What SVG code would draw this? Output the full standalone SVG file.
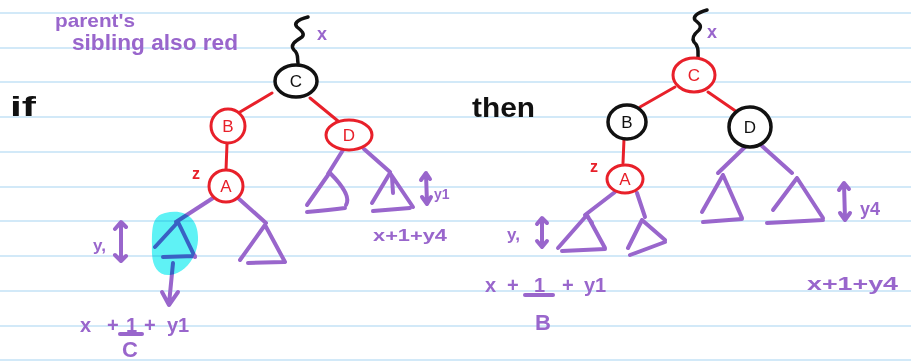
<svg xmlns="http://www.w3.org/2000/svg" width="911" height="362" viewBox="0 0 911 362">
<style>
.rule{stroke:#d2e9f8;stroke-width:2}
.blk{fill:none;stroke:#111;stroke-width:3.5;stroke-linecap:round;stroke-linejoin:round}
.red{fill:none;stroke:#e8202a;stroke-width:3;stroke-linecap:round;stroke-linejoin:round}
.pur{fill:none;stroke:#9966cc;stroke-width:4;stroke-linecap:round;stroke-linejoin:round}
.nb{fill:#fff;stroke:#111;stroke-width:3.5}
.nr{fill:#fff;stroke:#e8202a;stroke-width:3}
.lb{font-family:"Liberation Sans",Arial,sans-serif;font-size:17px;text-anchor:middle;fill:#111}
.lr{font-family:"Liberation Sans",Arial,sans-serif;font-size:17px;text-anchor:middle;fill:#e8202a}
.tp{font-family:"Liberation Sans",Arial,sans-serif;font-weight:bold;fill:#9966cc}
.tk{font-family:"Liberation Sans",Arial,sans-serif;font-weight:bold;fill:#111}
.tr{font-family:"Liberation Sans",Arial,sans-serif;font-weight:bold;fill:#e8202a}
</style>
<rect width="911" height="362" fill="#fff"/>
<g id="rules">
<line class="rule" x1="0" y1="13" x2="911" y2="13"/>
<line class="rule" x1="0" y1="48" x2="911" y2="48"/>
<line class="rule" x1="0" y1="82" x2="911" y2="82"/>
<line class="rule" x1="0" y1="117" x2="911" y2="117"/>
<line class="rule" x1="0" y1="152" x2="911" y2="152"/>
<line class="rule" x1="0" y1="187" x2="911" y2="187"/>
<line class="rule" x1="0" y1="221" x2="911" y2="221"/>
<line class="rule" x1="0" y1="256" x2="911" y2="256"/>
<line class="rule" x1="0" y1="291" x2="911" y2="291"/>
<line class="rule" x1="0" y1="326" x2="911" y2="326"/>
<line class="rule" x1="0" y1="360" x2="911" y2="360"/>
</g>

<g id="notes">
<text class="tp" x="55" y="27" font-size="19" textLength="80" lengthAdjust="spacingAndGlyphs">parent's</text>
<text class="tp" x="72" y="50" font-size="22" textLength="166" lengthAdjust="spacingAndGlyphs">sibling also red</text>
<text class="tk" x="10" y="116" font-size="28" textLength="26" lengthAdjust="spacingAndGlyphs">if</text>
<text class="tk" x="472" y="117" font-size="27" textLength="63" lengthAdjust="spacingAndGlyphs">then</text>
</g>

<g id="connectors">
<path class="blk" d="M308,17 C296,20 294,24 297,27 C302,31 305,34 302,37 C294,42 290,45 294,50 C299,54 297,58 298,63"/>
<path class="blk" d="M707,10 C696,13 693,17 695,20 C700,24 702,26 699,30 C693,35 692,39 694,42 C699,46 698,52 698,58"/>
<line class="red" x1="272" y1="93" x2="240" y2="112"/>
<line class="red" x1="310" y1="98" x2="338" y2="121"/>
<line class="red" x1="227" y1="144" x2="226" y2="170"/>
<line class="pur" x1="213" y1="198" x2="176" y2="222"/>
<line class="pur" x1="238" y1="198" x2="266" y2="223"/>
<line class="pur" x1="343" y1="150" x2="328" y2="174"/>
<line class="pur" x1="364" y1="149" x2="390" y2="172"/>
<line class="red" x1="675" y1="87" x2="640" y2="107"/>
<line class="red" x1="708" y1="92" x2="737" y2="112"/>
<line class="red" x1="624" y1="139" x2="623" y2="163"/>
<line class="pur" x1="615" y1="192" x2="585" y2="215"/>
<line class="pur" x1="637" y1="193" x2="645" y2="217"/>
<line class="pur" x1="745" y1="147" x2="718" y2="173"/>
<line class="pur" x1="762" y1="146" x2="792" y2="173"/>
<path class="pur" d="M173,263 L169,304 M162,292 L169,305 L178,292"/>
</g>

<g id="left-C"><ellipse class="nb" cx="296" cy="81" rx="21" ry="16"/><text class="lb" x="296" y="87">C</text></g>
<g id="left-B"><ellipse class="nr" cx="228" cy="126" rx="17" ry="17"/><text class="lr" x="228" y="132">B</text></g>
<g id="left-D"><ellipse class="nr" cx="349" cy="135" rx="23" ry="15"/><text class="lr" x="349" y="141">D</text></g>
<g id="left-A"><ellipse class="nr" cx="226" cy="186" rx="17" ry="16"/><text class="lr" x="226" y="192">A</text></g>
<g id="right-C"><ellipse class="nr" cx="694" cy="75" rx="21" ry="17"/><text class="lr" x="694" y="81">C</text></g>
<g id="right-B"><ellipse class="nb" cx="627" cy="122" rx="19" ry="17"/><text class="lb" x="627" y="128">B</text></g>
<g id="right-D"><ellipse class="nb" cx="750" cy="127" rx="21" ry="20"/><text class="lb" x="750" y="133">D</text></g>
<g id="right-A"><ellipse class="nr" cx="625" cy="179" rx="18" ry="14"/><text class="lr" x="625" y="185">A</text></g>

<g id="left-subtrees">
<path class="pur" d="M178,222 L155,247 M178,222 L195,257 M163,257 L195,256"/>
<path class="pur" d="M265,225 L240,260 M265,225 L285,262 M248,263 L284,262"/>
<path class="pur" d="M328,175 L307,205 M330,173 Q352,195 346,205 M307,212 Q330,210 345,208"/>
<path class="pur" d="M390,173 L372,203 M390,173 L413,207 M373,211 L410,208 M392,177 L393,193"/>
</g>
<g id="highlight">
<path d="M165,213 C185,208 199,218 198,240 C197,258 185,273 170,275 C155,276 151,262 152,245 C152,228 152,216 165,213 Z" fill="#5ff2f5" style="mix-blend-mode:multiply"/>
</g>
<g id="right-subtrees">
<path class="pur" d="M587,215 L558,248 M587,215 L605,248 M562,251 L605,249 M587,216 L592,223"/>
<path class="pur" d="M642,220 L628,248 M642,220 L665,240 M630,255 L665,242"/>
<path class="pur" d="M723,175 L702,212 M723,175 L742,218 M703,222 L742,219"/>
<path class="pur" d="M797,178 L773,210 M797,178 L823,218 M767,223 L823,220"/>
</g>

<g id="left-labels">
<text class="tp" x="317" y="40" font-size="18">x</text>
<text class="tr" x="192" y="179" font-size="16">z</text>
<path class="pur" d="M121,223 L121,260 M115,229 L121,222 L126,227 M115,255 L121,261 L126,256"/>
<text class="tp" x="93" y="251" font-size="17">y,</text>
<path class="pur" d="M426,174 L427,203 M421,180 L426,173 L430,179 M422,197 L427,204 L431,197"/>
<text class="tp" x="434" y="199" font-size="14">y1</text>
<text class="tp" x="373" y="241" font-size="17" textLength="74" lengthAdjust="spacingAndGlyphs">x+1+y4</text>
<text class="tp" y="332" font-size="20"><tspan x="80">x</tspan><tspan x="107">+</tspan><tspan x="126">1</tspan><tspan x="144">+</tspan><tspan x="167">y1</tspan></text>
<line class="pur" x1="120" y1="334" x2="142" y2="334"/>
<text class="tp" x="130" y="357" font-size="22" text-anchor="middle">C</text>
</g>

<g id="right-labels">
<text class="tp" x="707" y="38" font-size="18">x</text>
<text class="tr" x="590" y="172" font-size="16">z</text>
<path class="pur" d="M542,219 L542,246 M537,224 L542,218 L547,223 M537,241 L542,247 M547,241 L542,247"/>
<text class="tp" x="507" y="240" font-size="17">y,</text>
<path class="pur" d="M844,184 L845,219 M839,190 L844,183 L849,189 M840,213 L845,220 L850,213"/>
<text class="tp" x="860" y="215" font-size="18">y4</text>
<text class="tp" x="807" y="290" font-size="19" textLength="91" lengthAdjust="spacingAndGlyphs">x+1+y4</text>
<text class="tp" y="292" font-size="20"><tspan x="485">x</tspan><tspan x="507">+</tspan><tspan x="534">1</tspan><tspan x="562">+</tspan><tspan x="584">y1</tspan></text>
<line class="pur" x1="525" y1="295" x2="553" y2="295"/>
<text class="tp" x="543" y="330" font-size="22" text-anchor="middle">B</text>
</g>
</svg>
